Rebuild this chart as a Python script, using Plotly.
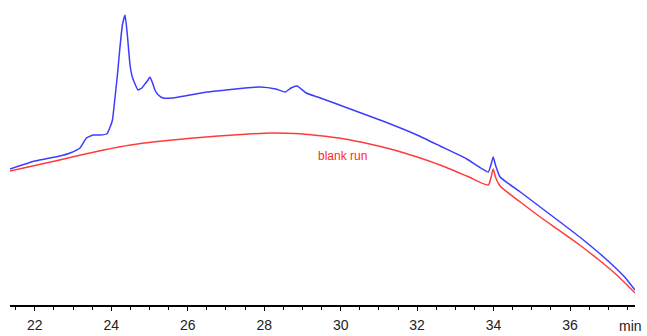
import plotly.graph_objects as go

# Sample run (blue)
t_sample = [21.35, 22.0, 22.65, 22.92, 23.18, 23.35, 23.52, 23.70, 23.88, 23.96, 24.03,
            24.09, 24.16, 24.22, 24.29, 24.36, 24.42, 24.49, 24.55, 24.62, 24.70, 24.80,
            24.88, 24.96, 25.01, 25.08, 25.14, 25.23, 25.35, 25.6, 26.5, 27.0, 27.5, 27.9,
            28.3, 28.55, 28.7, 28.86, 29.1, 29.4, 30.25, 31.1, 32.0, 32.6, 33.3,
            33.86, 33.93, 33.99, 34.05, 34.17, 34.7, 35.22, 35.74, 36.27, 36.79, 37.18,
            37.44, 37.7]
sig_sample = [136, 144, 149, 152, 157, 167, 170, 170, 171, 177, 185,
              205, 230, 255, 280, 290, 270, 240, 228, 221, 215, 217,
              221, 225, 228, 222, 215, 210, 207, 207, 213, 215, 217, 218,
              216, 213, 217, 219, 212, 208, 196, 184, 170, 159, 146,
              133, 140, 148, 140, 128, 113, 98, 83, 67.5, 51, 37.5,
              27.5, 15]

# Blank run (red)
t_blank = [21.35, 22.0, 22.65, 23.2, 23.8, 24.5, 25.2, 26.0, 26.8, 27.6, 28.2, 28.8,
           29.4, 30.1, 30.7, 31.4, 32.0, 32.6, 33.3, 33.86, 33.93, 33.99, 34.05, 34.17,
           34.7, 35.22, 35.74, 36.27, 36.79, 37.18, 37.44, 37.7]
sig_blank = [134, 139.5, 145, 150, 155, 160, 163.5, 166.5, 169, 171, 172, 171.5,
             169.5, 166, 161.5, 155, 148, 140, 129, 120, 127, 136, 128, 119,
             103, 88, 74, 59.5, 44, 31.5, 22, 12]

tick_vals = [22, 24, 26, 28, 30, 32, 34, 36]
tick_text = ["22", "24", "26", "28", "30", "32", "34", "36"]

fig = go.Figure()
fig.add_trace(go.Scatter(x=t_blank, y=sig_blank, mode="lines",
                         line=dict(color="rgb(255,60,60)", width=1.5, shape="spline", smoothing=0.6),
                         hoverinfo="skip"))
fig.add_trace(go.Scatter(x=t_sample, y=sig_sample, mode="lines",
                         line=dict(color="rgb(60,60,255)", width=1.5, shape="spline", smoothing=0.4),
                         hoverinfo="skip"))

fig.add_annotation(x=30.06, y=149, xref="x", yref="y", text="blank run", showarrow=False,
                   font=dict(family="Liberation Sans, Arial", size=12, color="rgb(255,40,40)"))
fig.add_annotation(x=37.58, y=-0.07, xref="x", yref="paper", text="min", showarrow=False,
                   yanchor="middle",
                   font=dict(family="Liberation Sans, Arial", size=14, color="#222"))

fig.update_layout(
    width=647, height=336,
    margin=dict(l=10, r=12, t=0, b=31),
    paper_bgcolor="white", plot_bgcolor="white",
    showlegend=False,
    xaxis=dict(range=[21.35, 37.7], tickvals=tick_vals, ticktext=tick_text,
               showgrid=False, zeroline=False, showline=True, linecolor="black", linewidth=1.5,
               ticks="outside", ticklen=4, tickcolor="black", tickwidth=1,
               ticklabelstandoff=2,
               tickfont=dict(family="Liberation Sans, Arial", size=14, color="#222"),
               minor=dict(dtick=0.5, tick0=22, ticks="outside", ticklen=3, tickcolor="black", showgrid=False)),
    yaxis=dict(range=[0, 305], visible=False, showgrid=False, zeroline=False),
)

fig.write_html("out.html", config={"displayModeBar": False},
               post_script="document.body.style.margin='0';document.body.style.overflow='hidden';")
